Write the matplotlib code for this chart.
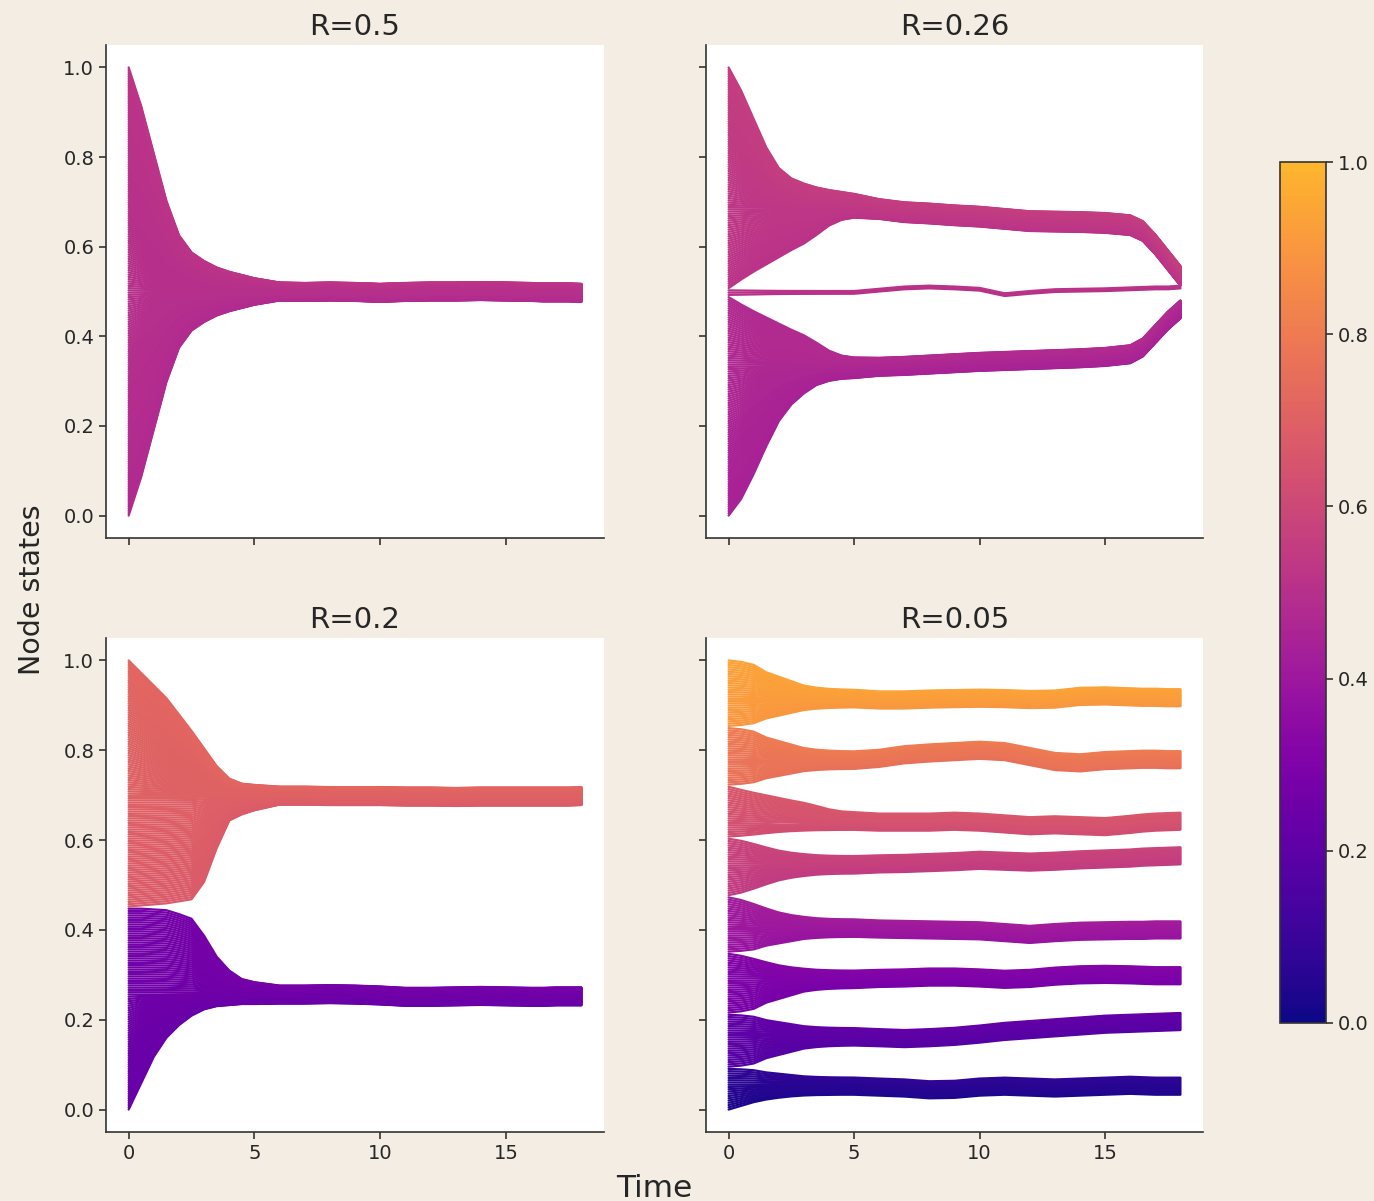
import numpy as np
import matplotlib.pyplot as plt
from matplotlib.colors import ListedColormap, Normalize
from matplotlib.cm import ScalarMappable

# time knots shared by all runs; clusters form before t=5, drift afterwards
TIME = [0, 0.5, 1, 1.5, 2, 2.5, 3, 3.5, 4, 4.5,
        5, 6, 7, 8, 9, 10, 11, 12, 13, 14, 15, 16, 16.5, 17, 17.5, 18]
N_EARLY = 10
N_NODES = 200

# share of the initial spread still left at t = 0, 0.5, ..., 5
SHRINK_FAST = [1, .82, .60, .38, .22, .14, .10, .07, .05, .035, .02]
SHRINK_MID = [1, .88, .70, .50, .32, .20, .12, .06, .03, .015, .01]
SHRINK_LINEAR = [1, .88, .77, .67, .57, .47, .38, .26, .13, .05, .02]
SHRINK_STEADY = [1, .90, .80, .70, .57, .44, .30, .16, .06, .02, .01]
SHRINK_HELD = [1, .99, .98, .97, .95, .93, .76, .43, .16, .10, .06]
SHRINK_LATE = [1, 1, .99, .98, .93, .87, .65, .38, .20, .09, .05]
SHRINK_QUICK = [1, .75, .50, .32, .20, .11, .05, .02, .01, 0, 0]
SHRINK_SMALL = [1, .95, .85, .60, .45, .30, .15, .08, .04, .02, .01]

# R = 0.5 : one cluster
R050_RANGES = [(0.0, 1.0)]
R050_CENTRES = [[0.500, 0.500, 0.499, 0.500, 0.499, 0.497, 0.499, 0.500,
                 0.500, 0.501, 0.500, 0.499, 0.498, 0.498, 0.498, 0.497]]
R050_WIDTHS = [0.020]
R050_SHRINK = [(SHRINK_FAST, SHRINK_FAST)]

# R = 0.26 : two large clusters and a thin one in between
R026_RANGES = [(0.0, 0.49), (0.49, 0.505), (0.505, 1.0)]
R026_CENTRES = [
    [0.330, 0.332, 0.334, 0.337, 0.340, 0.343, 0.345, 0.347,
     0.349, 0.351, 0.354, 0.360, 0.375, 0.405, 0.435, 0.460],
    [0.498, 0.503, 0.508, 0.510, 0.508, 0.505, 0.493, 0.498,
     0.502, 0.503, 0.504, 0.506, 0.507, 0.508, 0.508, 0.510],
    [0.690, 0.684, 0.677, 0.674, 0.670, 0.667, 0.662, 0.657,
     0.656, 0.655, 0.653, 0.648, 0.635, 0.605, 0.570, 0.535],
]
R026_WIDTHS = [0.020, 0.003, 0.022]
R026_SHRINK = [(SHRINK_LINEAR, SHRINK_MID),
               (SHRINK_FAST, SHRINK_FAST),
               (SHRINK_FAST, SHRINK_LINEAR)]

# R = 0.2 : two clusters
R020_RANGES = [(0.0, 0.45), (0.45, 1.0)]
R020_CENTRES = [
    [0.255, 0.256, 0.256, 0.257, 0.256, 0.254, 0.251, 0.251,
     0.252, 0.253, 0.252, 0.251, 0.251, 0.252, 0.252, 0.252],
    [0.700, 0.699, 0.699, 0.698, 0.698, 0.698, 0.697, 0.697,
     0.696, 0.697, 0.697, 0.697, 0.697, 0.697, 0.697, 0.698],
]
R020_WIDTHS = [0.020, 0.020]
R020_SHRINK = [(SHRINK_LATE, SHRINK_QUICK),
               (SHRINK_STEADY, SHRINK_HELD)]

# R = 0.05 : eight clusters
R005_RANGES = [(0.0, 0.095), (0.095, 0.215), (0.215, 0.35), (0.35, 0.475),
               (0.475, 0.605), (0.605, 0.72), (0.72, 0.85), (0.85, 1.0)]
R005_CENTRES = [
    [0.052, 0.050, 0.048, 0.044, 0.045, 0.050, 0.052, 0.050,
     0.048, 0.050, 0.052, 0.054, 0.053, 0.052, 0.052, 0.052],
    [0.162, 0.160, 0.158, 0.160, 0.163, 0.168, 0.174, 0.178,
     0.182, 0.186, 0.190, 0.192, 0.193, 0.194, 0.195, 0.196],
    [0.290, 0.292, 0.293, 0.295, 0.295, 0.293, 0.290, 0.292,
     0.297, 0.300, 0.301, 0.300, 0.299, 0.298, 0.298, 0.298],
    [0.404, 0.402, 0.401, 0.400, 0.399, 0.398, 0.394, 0.390,
     0.394, 0.397, 0.398, 0.399, 0.399, 0.400, 0.400, 0.400],
    [0.545, 0.547, 0.548, 0.550, 0.552, 0.555, 0.553, 0.551,
     0.553, 0.556, 0.558, 0.560, 0.562, 0.563, 0.564, 0.565],
    [0.642, 0.640, 0.640, 0.640, 0.642, 0.640, 0.636, 0.632,
     0.634, 0.632, 0.630, 0.635, 0.638, 0.640, 0.641, 0.642],
    [0.778, 0.782, 0.790, 0.794, 0.797, 0.800, 0.797, 0.786,
     0.775, 0.772, 0.777, 0.779, 0.780, 0.780, 0.779, 0.779],
    [0.915, 0.912, 0.912, 0.914, 0.915, 0.916, 0.915, 0.913,
     0.914, 0.920, 0.921, 0.919, 0.918, 0.918, 0.917, 0.917],
]
R005_WIDTHS = [0.019] * 8
R005_SHRINK = [(SHRINK_SMALL, SHRINK_QUICK), (SHRINK_SMALL, SHRINK_SMALL),
               (SHRINK_MID, SHRINK_SMALL), (SHRINK_MID, SHRINK_SMALL),
               (SHRINK_MID, SHRINK_MID), (SHRINK_LINEAR, SHRINK_MID),
               (SHRINK_SMALL, SHRINK_SMALL), (SHRINK_SMALL, SHRINK_SMALL)]

PANELS = [
    ("R=0.5", R050_RANGES, R050_CENTRES, R050_WIDTHS, R050_SHRINK),
    ("R=0.26", R026_RANGES, R026_CENTRES, R026_WIDTHS, R026_SHRINK),
    ("R=0.2", R020_RANGES, R020_CENTRES, R020_WIDTHS, R020_SHRINK),
    ("R=0.05", R005_RANGES, R005_CENTRES, R005_WIDTHS, R005_SHRINK),
]

BG = "#f3ede4"
INK = "#262626"

# plasma without its yellow end
cmap = ListedColormap(plt.get_cmap("plasma")(np.linspace(0, 0.84, 256)))
norm = Normalize(0, 1)

x0_all = np.linspace(0, 1, N_NODES)
n_knots = len(TIME)


def node_paths(lo, hi, centre, width, shrink_up, shrink_dn, last):
    if last:
        x0 = x0_all[(x0_all >= lo) & (x0_all <= hi)]
    else:
        x0 = x0_all[(x0_all >= lo) & (x0_all < hi)]
    pivot = centre[0]
    path = np.array([pivot] * N_EARLY + list(centre))
    s_up = np.pad(np.array(shrink_up, float), (0, n_knots - len(shrink_up)))
    s_dn = np.pad(np.array(shrink_dn, float), (0, n_knots - len(shrink_dn)))
    u = np.linspace(-1, 1, len(x0)) if len(x0) > 1 else np.zeros(1)
    paths = []
    for xi, ui in zip(x0, u):
        s = s_up if xi >= pivot else s_dn
        paths.append(path + (xi - pivot - ui * width) * s + ui * width)
    return paths


fig = plt.figure(figsize=(13.74, 12.01), dpi=100, facecolor=BG)

W, H = 1374, 1201
boxes = [(106, 45, 604, 538), (706, 45, 1203, 538),
         (106, 638, 604, 1132), (706, 638, 1203, 1132)]

for i, (title, ranges, centres, widths, shrinks) in enumerate(PANELS):
    l, t, r, b = boxes[i]
    ax = fig.add_axes([l / W, 1 - b / H, (r - l) / W, (b - t) / H])
    ax.set_facecolor("white")
    for k, (lo, hi) in enumerate(ranges):
        up, dn = shrinks[k]
        for p in node_paths(lo, hi, centres[k], widths[k], up, dn,
                            k == len(ranges) - 1):
            ax.plot(TIME, p, color=cmap(norm(p[-1])), lw=1.6,
                    solid_capstyle="round")
    ax.set_xlim(-0.9, 18.9)
    ax.set_ylim(-0.05, 1.05)
    ax.set_xticks([0, 5, 10, 15])
    ax.set_yticks([0, 0.2, 0.4, 0.6, 0.8, 1.0])
    ax.set_yticklabels(["0.0", "0.2", "0.4", "0.6", "0.8", "1.0"])
    ax.spines["top"].set_visible(False)
    ax.spines["right"].set_visible(False)
    for side in ("left", "bottom"):
        ax.spines[side].set_color("#333333")
        ax.spines[side].set_linewidth(1.2)
    ax.tick_params(labelsize=14, colors="#333333", length=5, width=1.2,
                   labelcolor=INK)
    if i < 2:
        ax.tick_params(labelbottom=False)
    if i % 2 == 1:
        ax.tick_params(labelleft=False)
    ax.set_title(title, fontsize=21, color=INK, pad=7)

cax = fig.add_axes([1280 / W, 1 - 1023 / H, 46 / W, 861 / H])
cb = fig.colorbar(ScalarMappable(norm=norm, cmap=cmap), cax=cax)
cb.set_ticks([0, 0.2, 0.4, 0.6, 0.8, 1.0])
cb.set_ticklabels(["0.0", "0.2", "0.4", "0.6", "0.8", "1.0"])
cb.ax.tick_params(labelsize=14, colors="#333333", length=5, width=1.2,
                  labelcolor=INK)
cb.outline.set_edgecolor("#333333")
cb.outline.set_linewidth(1.2)

fig.text(0.023, 0.509, "Node states", rotation=90, ha="center", va="center",
         fontsize=20.5, color=INK)
fig.text(0.4764, 0.003, "Time", ha="center", va="baseline",
         fontsize=22.5, color=INK)

fig.savefig("out.png", dpi=100, facecolor=BG)
